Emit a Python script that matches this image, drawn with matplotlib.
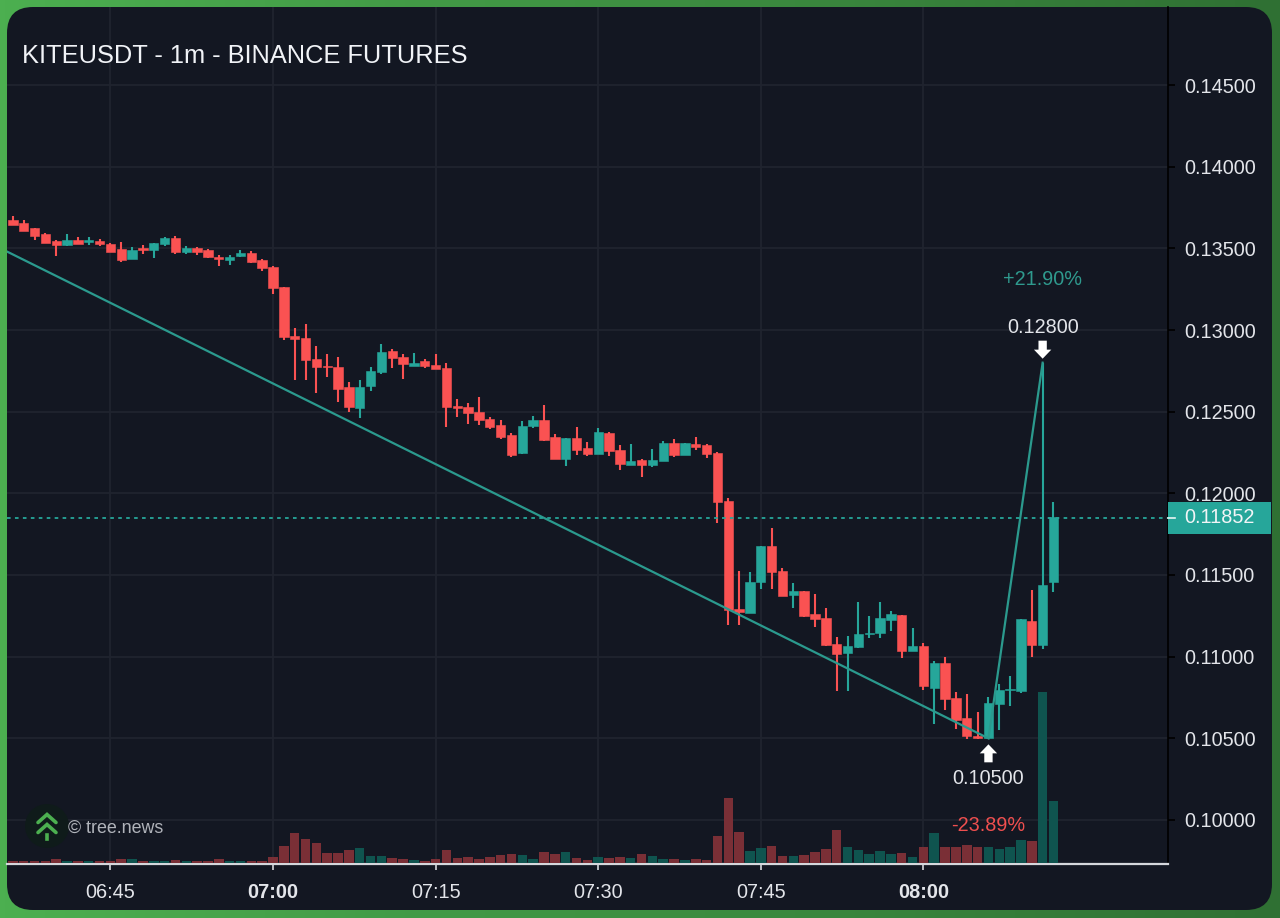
import numpy as np
import matplotlib
matplotlib.use("Agg")
import matplotlib.pyplot as plt
from matplotlib.patches import FancyBboxPatch, Rectangle, Circle
from matplotlib.transforms import blended_transform_factory

plt.rcParams['font.family'] = ['Liberation Sans', 'DejaVu Sans']

opens = [.13674,.13654,.13623,.13589,.13542,.13521,.13554,.13538,.13546,.13528,.13493,.13434,.13499,.13491,.13528,.13564,.13477,.13505,.13487,.13450,.13428,.13454,.13470,.13428,
         .13385,.13262,.12963,.12951,.12825,.12780,.12774,.12649,.12521,.12657,.12741,.12869,.12837,.12782,.12810,.12784,.12767,.12537,.12527,.12498,.12455,.12417,.12355,.12245,
         .12410,.12451,.12345,.12212,.12339,.12278,.12241,.12369,.12267,.12173,.12202,.12173,.12200,.12306,.12234,.12300,.12293,.12246,.11955,.11292,.11270,.11455,.11680,.11527,
         .11376,.11404,.11259,.11237,.11080,.11023,.11062,.11137,.11145,.11225,.11257,.11033,.11066,.10811,.10960,.10745,.10623,.10515,.10500,.10713,.10796,.10792,.11221,.11072,.11459]
highs = [.13695,.13674,.13623,.13593,.13548,.13585,.13568,.13572,.13556,.13530,.13536,.13511,.13521,.13534,.13568,.13577,.13515,.13511,.13495,.13460,.13460,.13491,.13481,.13434,
         .13389,.13266,.13010,.13037,.12902,.12853,.12833,.12684,.12694,.12772,.12912,.12884,.12851,.12857,.12825,.12853,.12800,.12580,.12551,.12588,.12466,.12449,.12372,.12441,
         .12471,.12539,.12365,.12339,.12406,.12314,.12400,.12378,.12298,.12302,.12212,.12271,.12318,.12335,.12306,.12343,.12302,.12251,.11969,.11527,.11519,.11680,.11790,.11541,
         .11453,.11404,.11382,.11296,.11119,.11127,.11337,.11249,.11337,.11282,.11257,.11176,.11082,.10976,.11000,.10786,.10772,.10662,.10752,.10833,.10882,.11231,.11408,.12800,.11949]
lows = [.13644,.13609,.13552,.13532,.13456,.13517,.13528,.13521,.13517,.13477,.13417,.13434,.13466,.13438,.13515,.13466,.13466,.13460,.13438,.13389,.13395,.13450,.13413,.13362,
        .13219,.12936,.12694,.12694,.12616,.12710,.12559,.12500,.12461,.12627,.12731,.12769,.12698,.12782,.12769,.12759,.12408,.12470,.12425,.12417,.12394,.12331,.12225,.12241,
        .12402,.12322,.12210,.12165,.12233,.12231,.12241,.12231,.12145,.12173,.12103,.12161,.12196,.12222,.12234,.12263,.12218,.11820,.11192,.11194,.11266,.11415,.11412,.11370,
        .11300,.11241,.11180,.11064,.10792,.10792,.11055,.11115,.11115,.11160,.10994,.11033,.10796,.10586,.10674,.10556,.10497,.10497,.10500,.10552,.10698,.10780,.11000,.11045,.11394]
closes = [.13644,.13609,.13576,.13532,.13523,.13552,.13528,.13548,.13528,.13479,.13430,.13491,.13489,.13534,.13562,.13477,.13501,.13477,.13444,.13434,.13450,.13474,.13419,.13379,
          .13258,.12958,.12945,.12816,.12776,.12774,.12637,.12527,.12653,.12747,.12867,.12831,.12792,.12800,.12780,.12763,.12531,.12521,.12492,.12449,.12406,.12347,.12233,.12415,
          .12447,.12329,.12210,.12339,.12267,.12241,.12378,.12261,.12182,.12200,.12175,.12204,.12308,.12232,.12306,.12283,.12240,.11945,.11286,.11276,.11457,.11680,.11519,.11370,
          .11402,.11249,.11233,.11072,.11019,.11066,.11137,.11145,.11237,.11262,.11033,.11066,.10821,.10962,.10739,.10613,.10515,.10500,.10715,.10796,.10805,.11231,.11072,.11441,.11853]
volumes = [2,2,2,2,4,2,2,2,2,2,4,4,2.5,2,2,3,2,2,2.5,4,2,2,2,2.5,6,16.7,30,24,20,10.3,10.3,13.3,15.3,6.7,7.3,5,
           4,3,2.3,4,13.3,5,6,4,6,8,9.3,7.7,4,11.3,9.3,11.3,5,3.3,5.7,5,6,5,8.7,6.7,4,4,3,4,3.3,26.7,65,31.3,12.3,15,16.7,7.3,
           7.3,8,11,13.7,32.7,15.7,13.3,9.3,12,8.7,9.7,6.3,15.7,30,16.3,15.7,18.3,15.7,16.3,14,15.7,23.3,22,171,62]

start_minutes = 6 * 60 + 36
minutes = [start_minutes + i for i in range(len(opens))]
price_ticks = [.10, .105, .11, .115, .12, .125, .13, .135, .14, .145]
time_tick_minutes = [405, 420, 435, 450, 465, 480]
time_tick_labels = ["06:45", "07:00", "07:15", "07:30", "07:45", "08:00"]
bold_labels = {"07:00", "08:00"}

trend_minutes = [start_minutes - 0.5, start_minutes + 90, start_minutes + 95]
trend_prices = [.13479, .10500, .12800]
last_price = .11852
low_price, high_price = .10500, .12800
low_minute, high_minute = start_minutes + 90, start_minutes + 95

UP, DOWN = "#26a69a", "#fa5252"
VUP, VDOWN = "#0f544f", "#7a2f36"
PANEL = "#131722"
GRID = "#20242f"
TEXT = "#e3e5ea"

W, H = 1280, 918
fig = plt.figure(figsize=(W / 100, H / 100), dpi=100)

# background & panel, in pixel coordinates
bg = fig.add_axes([0, 0, 1, 1], zorder=0)
bg.set_xlim(0, W); bg.set_ylim(H, 0); bg.axis("off")
c0, c1 = np.array(matplotlib.colors.to_rgb("#4caf50")), np.array(matplotlib.colors.to_rgb("#2f7033"))
t = np.linspace(0, 1, 256)[None, :, None]
bg.imshow(c0 + (c1 - c0) * t, extent=[0, W, H, 0], aspect="auto", zorder=0)
r = 26
bg.add_patch(FancyBboxPatch((7 + r, 7 + r), 1265 - 2 * r, 903 - 2 * r,
                            boxstyle=f"round,pad={r},rounding_size={r}", fc=PANEL, ec="none", zorder=1))
bg.set_xlim(0, W); bg.set_ylim(H, 0)

# main axes
L, R, T, B = 7, 1168, 7, 864
px_per_min = 10.84
ppu = 16333.0
ax_pos = [L / W, 1 - B / H, (R - L) / W, (B - T) / H]
ax = fig.add_axes(ax_pos, zorder=2)
ax.patch.set_alpha(0)
ax.set_xlim(420 + (L - 273) / px_per_min, 420 + (R - 273) / px_per_min)
ax.set_ylim(.10 - (B - 820) / ppu, .145 + (85 - T) / ppu)

# volume on its own scale: shares the lower part of the pane
vax = ax.twinx()
vax.patch.set_alpha(0)
vax.set_ylim(-1, B - T - 1)
vax.set_yticks([])
for s in vax.spines.values():
    s.set_visible(False)

# candles over everything else
cax = ax.twinx()
cax.patch.set_alpha(0)
cax.set_ylim(ax.get_ylim()); cax.set_yticks([])
for s in cax.spines.values():
    s.set_visible(False)

ax.set_xticks(time_tick_minutes)
ax.set_xticklabels(time_tick_labels)
for lab in ax.get_xticklabels():
    lab.set_fontweight("bold" if lab.get_text() in bold_labels else "normal")
ax.yaxis.tick_right()
ax.set_yticks(price_ticks)
ax.set_yticklabels([f"{p:.5f}" for p in price_ticks])
ax.tick_params(axis="y", colors="#000000", length=5, width=1.2, pad=7, labelsize=14.3, labelcolor=TEXT)
ax.tick_params(axis="x", colors="#d5d7dc", length=4.5, width=1.2, pad=9, labelsize=14.3, labelcolor=TEXT)
ax.grid(True, color=GRID, lw=1.3, zorder=0)
ax.set_axisbelow(True)
for s in ("top", "left"):
    ax.spines[s].set_visible(False)
ax.spines["right"].set_color("#000000"); ax.spines["right"].set_linewidth(1.2)
ax.spines["bottom"].set_color("#d5d7dc"); ax.spines["bottom"].set_linewidth(1.6)

o, h, l, c = map(np.array, (opens, highs, lows, closes))
m = np.array(minutes)
is_up = c >= o
vax.bar(m, volumes, width=0.88, color=[VUP if u else VDOWN for u in is_up], lw=0, zorder=1)

colors = [UP if u else DOWN for u in is_up]
cax.vlines(m, l, h, colors=colors, lw=1.5, zorder=2)
cax.bar(m, np.abs(c - o), bottom=np.minimum(o, c), width=0.86, color=colors, edgecolor=colors, lw=0.4, zorder=3)

cax.plot(trend_minutes, trend_prices, color="#2b9a8e", lw=1.6, zorder=4, solid_joinstyle="miter")
cax.axhline(last_price, color=UP, lw=1.3, dashes=(2.0, 2.4), zorder=4)

# last-price tag
tr = blended_transform_factory(cax.transAxes, cax.transData)
cax.add_patch(Rectangle((1.0, last_price - 16 / ppu), (1271 - R) / (R - L), 32 / ppu, transform=tr,
                        fc=UP, ec="none", clip_on=False, zorder=6))
cax.plot([1.0, 1.0 + 7 / (R - L)], [last_price, last_price], transform=tr, color="#e8f5f3", lw=1.2,
         clip_on=False, zorder=7)
cax.text(1.0 + (1184.5 - R) / (R - L), last_price, f"{last_price:.5f}", transform=tr, color="#f2f5f7",
         fontsize=14.3, va="center", ha="left", zorder=7)

# extreme markers
PX = 0.72
def label(x, y, dy_px, text, color):
    cax.annotate(text, xy=(x, y), xytext=(0, dy_px * PX), textcoords="offset points",
                 ha="center", va="center", fontsize=14.3, color=color, zorder=8, annotation_clip=False)

def arrow(x, y, gap_px, tail_px):
    cax.annotate("", xy=(x, y), xytext=(0, tail_px * PX), textcoords="offset points", zorder=8,
                 arrowprops=dict(arrowstyle="simple,head_length=0.65,head_width=1.25,tail_width=0.6",
                                 mutation_scale=10, color="white", lw=0, shrinkA=0, shrinkB=gap_px * PX))

arrow(low_minute, low_price, 6, -24)
arrow(high_minute, high_price, 4, 22)
label(low_minute, low_price, -40, f"{low_price:.5f}", TEXT)
label(high_minute, high_price, 35, f"{high_price:.5f}", TEXT)
label(high_minute, high_price, 83, "+21.90%", "#2f9a8e")
label(low_minute, low_price, -87, "-23.89%", "#ef4f4f")

# overlay: title and watermark, pixel coordinates
ov = fig.add_axes([0, 0, 1, 1], zorder=3)
ov.set_xlim(0, W); ov.set_ylim(H, 0); ov.axis("off"); ov.patch.set_alpha(0)
ov.text(22.5, 56, "KITEUSDT - 1m - BINANCE FUTURES", fontsize=18.25, color="#f1f3f7", va="center", ha="left")
ov.add_patch(Circle((47, 826), 22, fc="#0f1b1a", ec="none"))
green = "#4caf50"
for dy in (0, 10):
    ov.plot([38, 47, 56], [823 + dy - 0.5, 815 + dy - 0.5, 823 + dy - 0.5], color=green, lw=2.6,
            solid_capstyle="round", solid_joinstyle="miter")
ov.plot([47, 47], [835, 838.5], color=green, lw=2.6)
ov.text(68, 828, "© tree.news", fontsize=12.9, color="#b0b3ba", va="center", ha="left")

fig.savefig("out.png", dpi=100)
